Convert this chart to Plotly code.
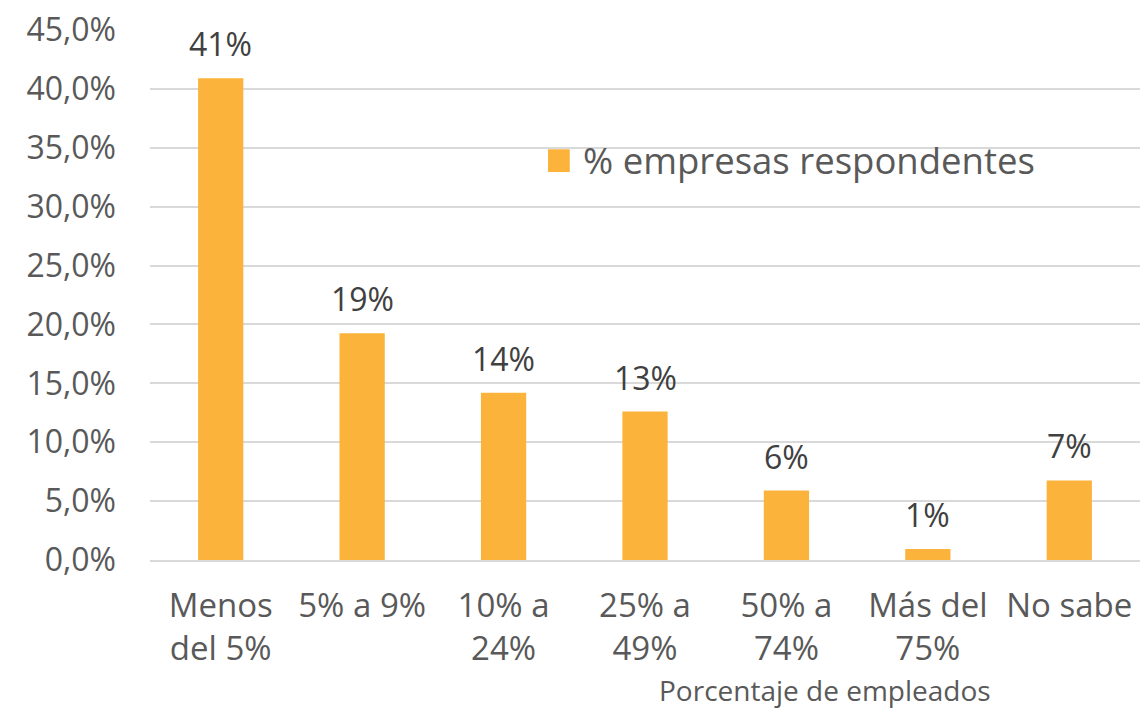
import plotly.graph_objects as go

categories = ["Menos<br>del 5%", "5% a 9%", "10% a<br>24%", "25% a<br>49%", "50% a<br>74%", "Más del<br>75%", "No sabe"]
shares = [0.409, 0.1925, 0.142, 0.126, 0.059, 0.0093, 0.0676]
y_ticks = [0, 0.05, 0.10, 0.15, 0.20, 0.25, 0.30, 0.35, 0.40, 0.45]
series_name = "% empresas respondentes"

BAR = "#FBB33C"
GREY = "#595959"
FONT = "Open Sans, Noto Sans, sans-serif"

fig = go.Figure(
    go.Bar(
        x=categories,
        y=shares,
        name=series_name,
        marker=dict(color=BAR, line=dict(width=0)),
        showlegend=False,
    )
)

# data labels above the bars
for cat, val in zip(categories, shares):
    fig.add_annotation(
        x=cat, y=val, text=f"{val:.0%}", showarrow=False,
        xanchor="center", yanchor="bottom", yshift=11,
        font=dict(size=32, color="#404040", family=FONT),
    )

# legend drawn by hand so the key is as big as in the original
fig.add_shape(
    type="rect", xref="paper", yref="paper",
    x0=0.402, x1=0.424, y0=0.732, y1=0.775,
    fillcolor=BAR, line=dict(width=0),
)
fig.add_annotation(
    text=series_name, x=0.435, y=0.754, xref="paper", yref="paper",
    xanchor="left", yanchor="middle", showarrow=False,
    font=dict(size=36.5, color=GREY, family=FONT),
)

fig.add_annotation(
    text="Porcentaje de empleados",
    x=0.682, y=-0.285, xref="paper", yref="paper",
    xanchor="center", yanchor="bottom", showarrow=False,
    font=dict(size=28, color=GREY, family=FONT),
)

fig.update_layout(
    width=1147,
    height=713,
    margin=dict(l=150, r=7, t=25, b=153),
    paper_bgcolor="white",
    plot_bgcolor="white",
    separators=", ",
    bargap=0.68,
    font=dict(family=FONT, color=GREY),
    xaxis=dict(
        tickfont=dict(size=33, color=GREY),
        showline=True, linecolor="#D9D9D9", linewidth=1.5,
        ticks="", showgrid=False,
        ticklabelstandoff=16,
    ),
    yaxis=dict(
        range=[0, 0.45],
        tickvals=y_ticks,
        tickformat=".1%",
        tickfont=dict(size=32, color=GREY),
        showgrid=True, gridcolor="#D9D9D9", gridwidth=1.5,
        zeroline=False, showline=False, ticks="",
        ticklabelstandoff=33,
    ),
)

# the page's default body margin would push the figure 8px off the window
fig.write_html(
    "out.html",
    config={"displayModeBar": False},
    post_script="document.body.style.margin='0';document.body.style.overflow='hidden';",
)
